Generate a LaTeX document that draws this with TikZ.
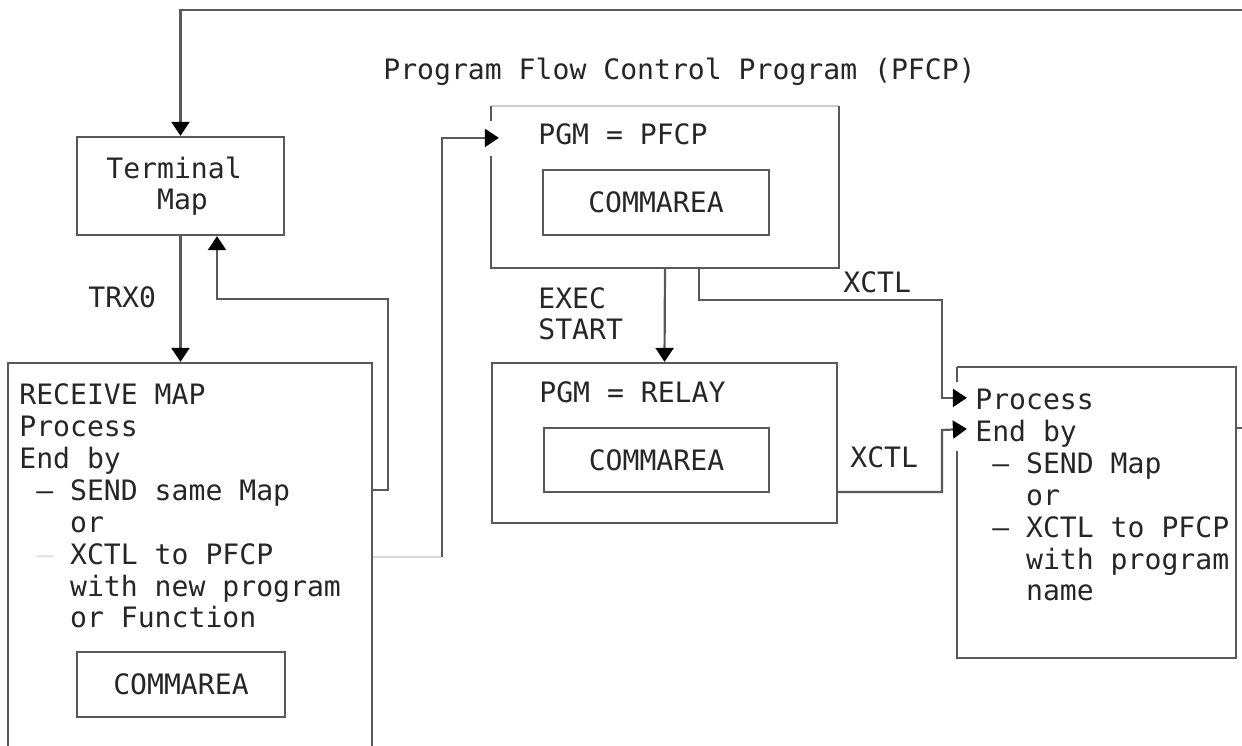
\documentclass[tikz,border=0pt]{standalone}
\usepackage{fontspec}
\newfontfamily\ibmmono{DejaVu Sans Mono}
\usetikzlibrary{arrows.meta}

\begin{document}
\begin{tikzpicture}[x=0.02cm, y=-0.02cm,
    every node/.style={font=\ibmmono\fontsize{16}{18.14}\selectfont, text=black!85, inner sep=0pt},
    wire/.style={draw=black!65, line width=1.25pt},
    faint/.style={draw=black!15, line width=1.25pt},
    flow/.style={wire, -{Triangle[length=0.28cm, width=0.36cm, color=black]}},
    pbox/.style 2 args={wire, minimum width=#1*0.02cm, minimum height=#2*0.02cm},
    txt/.style={anchor=base west, align=left}]

  \useasboundingbox (0,0) rectangle (1242,746);

  % Title
  \node[txt] (title) at (383,80) {Program Flow Control Program (PFCP)};

  % Terminal map (multi-line texts sit on their last baseline)
  \node[pbox={207}{98}] (term) at (180.5,186) {};
  \node[txt] (termtxt) at (106,210) {Terminal\\\hphantom{000}Map};

  % Receiving program
  \node[pbox={364}{397}] (recv) at (190,561.5) {};
  \node[txt] (recvtxt) at (19,628) {RECEIVE MAP\\
    Process\\
    End by\\
    \hphantom{0}–\hphantom{0}SEND same Map\\
    \hphantom{000}or\\
    \hphantom{0}\textcolor{black!12}{–}\hphantom{0}XCTL to PFCP\\
    \hphantom{000}with new program\\
    \hphantom{000}or Function};
  \node[pbox={208}{65}] (rcomm) at (181,684.5) {COMMAREA};

  % PFCP
  \node[pbox={346}{160}, draw=none] (pfcp) at (665,187) {};
  \draw[wire, draw=black!20] (pfcp.north west) -- (pfcp.north east);
  \draw[wire] (pfcp.north east) -- (pfcp.south east) -- (pfcp.south west) -- ++(0,-112);
  \draw[wire] (pfcp.north west) -- ++(0,15);
  \node[txt] (pfcptxt) at (538,145) {PGM = PFCP};
  \node[pbox={226}{65}] (pcomm) at (656,202.5) {COMMAREA};

  % Relay
  \node[pbox={345}{160}] (relay) at (664.5,443) {};
  \node[txt] (relaytxt) at (539,403) {PGM = RELAY};
  \node[pbox={225}{64}] (lcomm) at (656.5,460) {COMMAREA};

  % Next program
  \node[pbox={277}{289}, draw=none] (prog) at (1096.5,512.5) {};
  \draw[wire] (prog.north west) -- (prog.north east) -- (prog.south east) -- (prog.south west) -- ++(0,-207);
  \draw[wire] (prog.north west) -- ++(0,15);
  \node[txt] (progtxt) at (975,601) {Process\\
    End by\\
    \hphantom{0}–\hphantom{0}SEND Map\\
    \hphantom{000}or\\
    \hphantom{0}–\hphantom{0}XCTL to PFCP\\
    \hphantom{000}with program\\
    \hphantom{000}name};

  % Connectors
  \draw[flow] (prog.east |- 0,428) -| (1270,10) -| (term.north);
  \draw[flow] (term.south) -- (term.south |- recv.north);
  \node[txt] (trx) at (88,308) {TRX0};
  \draw[flow] (recv.east |- 0,490) -| (388,299) -| ([xshift=0.73cm]term.south);
  \draw[faint] (recv.east |- 0,557) -- (442,557);
  \draw[flow] (442,557) |- ([shift={(8,32)}]pfcp.north west);
  \draw[flow] (pfcp.south) -- (relay.north);
  \node[txt] (exec) at (538,340) {EXEC\\START};
  \draw[flow] ([xshift=0.68cm]pfcp.south) |- (942,300) |- ([shift={(10,31)}]prog.north west);
  \node[txt] (xctla) at (843,293) {XCTL};
  \draw[flow] (relay.east |- 0,492) -| (942,430) -- ([shift={(10,62)}]prog.north west);
  \node[txt] (xctlb) at (850,468) {XCTL};

\end{tikzpicture}
\end{document}
